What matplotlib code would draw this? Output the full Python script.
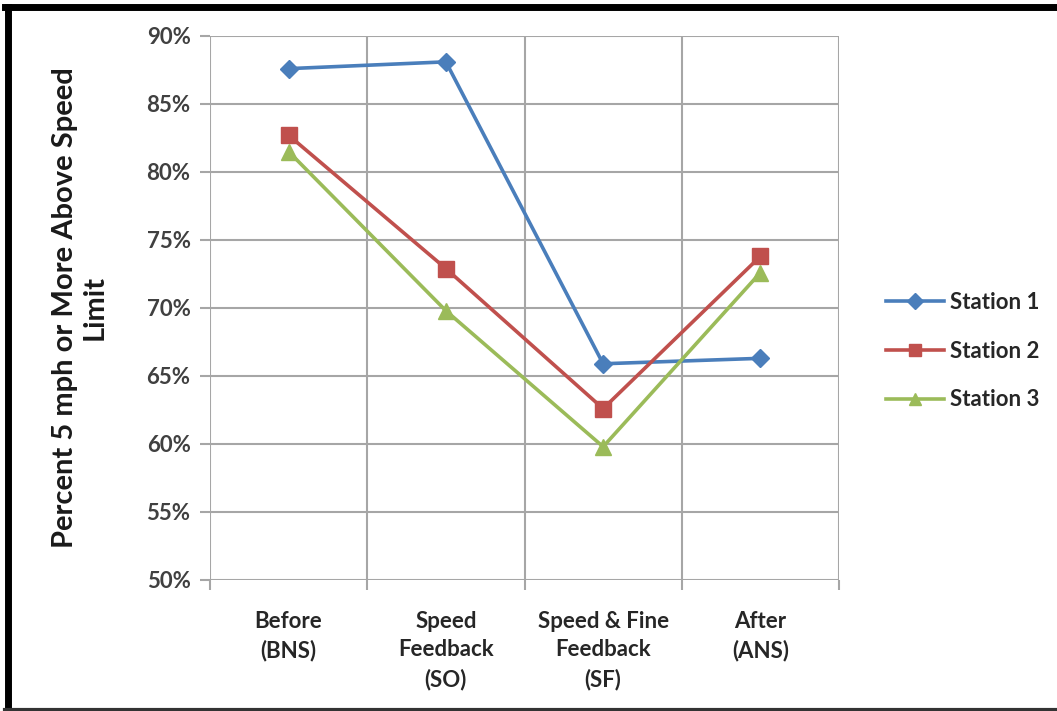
import matplotlib
matplotlib.use("Agg")
import matplotlib.pyplot as plt
from matplotlib.lines import Line2D
from matplotlib.ticker import FixedLocator, PercentFormatter

categories = ["Before\n(BNS)", "Speed\nFeedback\n(SO)", "Speed & Fine\nFeedback\n(SF)", "After\n(ANS)"]
station1 = [87.6, 88.1, 65.9, 66.3]
station2 = [82.7, 72.9, 62.6, 73.8]
station3 = [81.5, 69.8, 59.8, 72.6]
series_names = ["Station 1", "Station 2", "Station 3"]
yticks = [50, 55, 60, 65, 70, 75, 80, 85, 90]

plt.rcParams['font.family'] = ['Lato', 'DejaVu Sans']
fig = plt.figure(figsize=(10.57, 7.11), dpi=100)
W, H = 1057, 711
ax = fig.add_axes([210 / W, 1 - 580 / H, (839 - 210) / W, (580 - 36) / H])

x = list(range(len(categories)))
styles = [
    dict(color="#4A7EBB", marker="D", markersize=9),
    dict(color="#C0504D", marker="s", markersize=11),
    dict(color="#9BBB59", marker="^", markersize=11),
]
for data, name, st in zip([station1, station2, station3], series_names, styles):
    ax.plot(x, data, lw=2.6, label=name, color=st["color"], marker=st["marker"],
            markersize=st["markersize"], markerfacecolor=st["color"],
            markeredgecolor=st["color"], zorder=3)

ax.set_xlim(-0.5, len(categories) - 0.5)
ax.set_ylim(50, 90)
ax.yaxis.set_major_locator(FixedLocator(yticks))
ax.yaxis.set_major_formatter(PercentFormatter(decimals=0))
ax.xaxis.set_major_locator(FixedLocator([i - 0.5 for i in range(len(categories) + 1)]))
ax.xaxis.set_major_formatter(plt.NullFormatter())
ax.xaxis.set_minor_locator(FixedLocator(x))
ax.set_xticklabels(categories, minor=True)
ax.tick_params(axis="x", which="minor", length=0, pad=22, labelsize=16, labelcolor="#262626")
ax.tick_params(axis="x", which="major", length=7, color="#A6A6A6", width=1.5)
ax.tick_params(axis="y", which="major", length=7, color="#A6A6A6", width=1.5,
               labelsize=16, labelcolor="#404040", pad=7)
for lbl in ax.get_xticklabels(minor=True):
    lbl.set_fontweight("bold")
    lbl.set_linespacing(1.45)
for lbl in ax.get_yticklabels():
    lbl.set_fontweight("bold")

ax.grid(True, which="major", color="#A6A6A6", lw=1.5)
for s in ax.spines.values():
    s.set_visible(False)
ax.set_axisbelow(True)

ax.set_ylabel("Percent 5 mph or More Above Speed\nLimit", fontsize=21, fontweight="bold",
              color="#1a1a1a", labelpad=28, linespacing=1.15)

leg = fig.legend(loc="center left", bbox_to_anchor=(866 / W, 1 - 351 / H), frameon=False,
                 fontsize=16, handlelength=2.6, labelspacing=1.25, handletextpad=0.3)
for t in leg.get_texts():
    t.set_fontweight("bold")
    t.set_color("#262626")
for h in leg.legend_handles:
    h.set_markersize(8)

# outer frame
fig.add_artist(Line2D([5 / W, 1], [1 - 7 / H, 1 - 7 / H], color="black", lw=5, transform=fig.transFigure))
fig.add_artist(Line2D([8 / W, 8 / W], [1 - 7 / H, 0], color="black", lw=5, transform=fig.transFigure))
fig.add_artist(Line2D([5 / W, 1], [1.5 / H, 1.5 / H], color="#333333", lw=3, transform=fig.transFigure))

fig.savefig("out.png", dpi=100)
